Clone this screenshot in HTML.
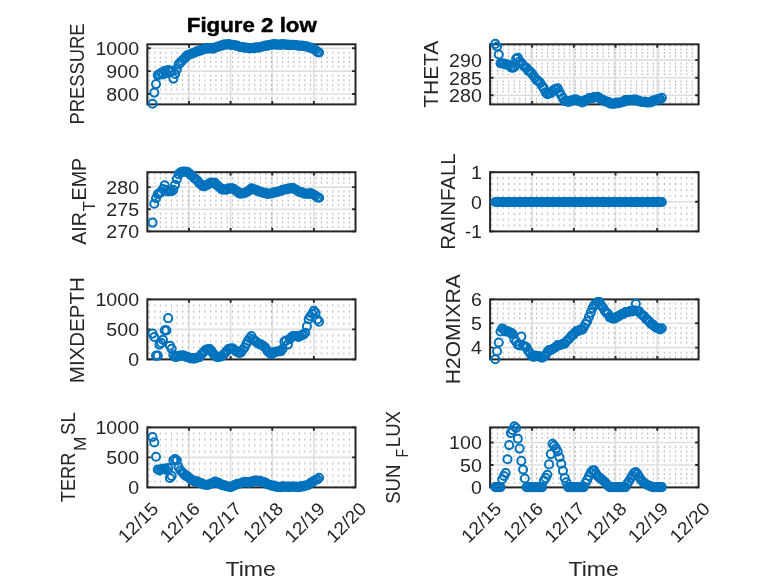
<!DOCTYPE html>
<html><head><meta charset="utf-8"><title>Figure 2 low</title>
<style>html,body{margin:0;padding:0;background:#fff;overflow:hidden}svg{display:block;will-change:transform;opacity:0.999}</style>
</head><body>
<svg width="778" height="583" viewBox="0 0 778 583" font-family="Liberation Sans, sans-serif" fill="#262626">
<rect width="778" height="583" fill="#fff"/>
<rect x="147.35" y="44.3" width="208.15" height="60.1" fill="#fff"/>
<path d="M148.7 52.87H354.5M148.7 57.44H354.5M148.7 62.01H354.5M148.7 66.58H354.5M148.7 75.72H354.5M148.7 80.29H354.5M148.7 84.86H354.5M148.7 89.43H354.5M148.7 98.57H354.5" stroke="#000" stroke-opacity="0.27" stroke-width="2" stroke-dasharray="1.1 4.46" fill="none"/>
<path d="M188.98 44.3V104.4M230.61 44.3V104.4M272.24 44.3V104.4M313.87 44.3V104.4M147.35 48.3H355.5M147.35 71.15H355.5M147.35 94H355.5" stroke="#000" stroke-opacity="0.13" stroke-width="1.6" fill="none"/>
<rect x="147.35" y="44.3" width="208.15" height="60.1" fill="none" stroke="#262626" stroke-width="2"/>
<path d="M188.98 104.4v-3.4M188.98 44.3v3.4M230.61 104.4v-3.4M230.61 44.3v3.4M272.24 104.4v-3.4M272.24 44.3v3.4M313.87 104.4v-3.4M313.87 44.3v3.4M147.35 48.3h3.4M355.5 48.3h-3.4M147.35 71.15h3.4M355.5 71.15h-3.4M147.35 94h3.4M355.5 94h-3.4" stroke="#262626" stroke-width="1.9" fill="none"/>
<g fill="none" stroke="#0072BD" stroke-width="2"><circle cx="152.55" cy="103.7" r="4.05"/><circle cx="154.29" cy="92.6" r="4.05"/><circle cx="156.02" cy="84.1" r="4.05"/><circle cx="157.76" cy="75.17" r="4.05"/><circle cx="159.49" cy="74.52" r="4.05"/><circle cx="161.23" cy="72.7" r="4.05"/><circle cx="162.96" cy="74.47" r="4.05"/><circle cx="164.7" cy="70.72" r="4.05"/><circle cx="166.43" cy="73.2" r="4.05"/><circle cx="168.16" cy="70.04" r="4.05"/><circle cx="169.9" cy="72.08" r="4.05"/><circle cx="171.63" cy="70.92" r="4.05"/><circle cx="173.37" cy="78.62" r="4.05"/><circle cx="175.1" cy="73.94" r="4.05"/><circle cx="176.84" cy="69.39" r="4.05"/><circle cx="178.57" cy="64.36" r="4.05"/><circle cx="180.31" cy="62.63" r="4.05"/><circle cx="182.04" cy="60.89" r="4.05"/><circle cx="183.78" cy="58.99" r="4.05"/><circle cx="185.51" cy="57.32" r="4.05"/><circle cx="187.25" cy="55.39" r="4.05"/><circle cx="188.98" cy="54.76" r="4.05"/><circle cx="190.71" cy="54.2" r="4.05"/><circle cx="192.45" cy="53.18" r="4.05"/><circle cx="194.18" cy="52.98" r="4.05"/><circle cx="195.92" cy="51.82" r="4.05"/><circle cx="197.65" cy="51.11" r="4.05"/><circle cx="199.39" cy="51" r="4.05"/><circle cx="201.12" cy="49.89" r="4.05"/><circle cx="202.86" cy="49.66" r="4.05"/><circle cx="204.59" cy="48.82" r="4.05"/><circle cx="206.33" cy="48.16" r="4.05"/><circle cx="208.06" cy="48.6" r="4.05"/><circle cx="209.79" cy="48.12" r="4.05"/><circle cx="211.53" cy="48.43" r="4.05"/><circle cx="213.26" cy="48.65" r="4.05"/><circle cx="215" cy="47.52" r="4.05"/><circle cx="216.73" cy="47.27" r="4.05"/><circle cx="218.47" cy="46.46" r="4.05"/><circle cx="220.2" cy="45.71" r="4.05"/><circle cx="221.94" cy="45.64" r="4.05"/><circle cx="223.67" cy="44.66" r="4.05"/><circle cx="225.41" cy="44.58" r="4.05"/><circle cx="227.14" cy="44.47" r="4.05"/><circle cx="228.88" cy="44.03" r="4.05"/><circle cx="230.61" cy="45.02" r="4.05"/><circle cx="232.34" cy="44.86" r="4.05"/><circle cx="234.08" cy="45.02" r="4.05"/><circle cx="235.81" cy="45.66" r="4.05"/><circle cx="237.55" cy="45.7" r="4.05"/><circle cx="239.28" cy="46.79" r="4.05"/><circle cx="241.02" cy="47.16" r="4.05"/><circle cx="242.75" cy="47.16" r="4.05"/><circle cx="244.49" cy="47.8" r="4.05"/><circle cx="246.22" cy="47.45" r="4.05"/><circle cx="247.96" cy="47.96" r="4.05"/><circle cx="249.69" cy="48.44" r="4.05"/><circle cx="251.43" cy="48.02" r="4.05"/><circle cx="253.16" cy="48.3" r="4.05"/><circle cx="254.89" cy="47.65" r="4.05"/><circle cx="256.63" cy="47.38" r="4.05"/><circle cx="258.36" cy="47.74" r="4.05"/><circle cx="260.1" cy="46.93" r="4.05"/><circle cx="261.83" cy="46.75" r="4.05"/><circle cx="263.57" cy="46.22" r="4.05"/><circle cx="265.3" cy="45.46" r="4.05"/><circle cx="267.04" cy="45.81" r="4.05"/><circle cx="268.77" cy="45.14" r="4.05"/><circle cx="270.51" cy="44.78" r="4.05"/><circle cx="272.24" cy="44.67" r="4.05"/><circle cx="273.97" cy="44.02" r="4.05"/><circle cx="275.71" cy="44.61" r="4.05"/><circle cx="277.44" cy="44.63" r="4.05"/><circle cx="279.18" cy="44.46" r="4.05"/><circle cx="280.91" cy="44.84" r="4.05"/><circle cx="282.65" cy="44.13" r="4.05"/><circle cx="284.38" cy="44.43" r="4.05"/><circle cx="286.12" cy="44.83" r="4.05"/><circle cx="287.85" cy="44.6" r="4.05"/><circle cx="289.59" cy="45.21" r="4.05"/><circle cx="291.32" cy="44.77" r="4.05"/><circle cx="293.06" cy="44.68" r="4.05"/><circle cx="294.79" cy="45.26" r="4.05"/><circle cx="296.52" cy="45.08" r="4.05"/><circle cx="298.26" cy="45.78" r="4.05"/><circle cx="299.99" cy="45.82" r="4.05"/><circle cx="301.73" cy="45.5" r="4.05"/><circle cx="303.46" cy="46.21" r="4.05"/><circle cx="305.2" cy="46.1" r="4.05"/><circle cx="306.93" cy="46.62" r="4.05"/><circle cx="308.67" cy="47.53" r="4.05"/><circle cx="310.4" cy="47.47" r="4.05"/><circle cx="312.14" cy="48.5" r="4.05"/><circle cx="313.87" cy="48.97" r="4.05"/><circle cx="315.6" cy="50.06" r="4.05"/><circle cx="317.34" cy="51.92" r="4.05"/><circle cx="319.07" cy="52.54" r="4.05"/></g>
<text x="139.05" y="55.1" text-anchor="end" font-size="18.3" textLength="43.6" lengthAdjust="spacingAndGlyphs">1000</text>
<text x="139.05" y="77.95" text-anchor="end" font-size="18.3" textLength="32.7" lengthAdjust="spacingAndGlyphs">900</text>
<text x="139.05" y="100.8" text-anchor="end" font-size="18.3" textLength="32.7" lengthAdjust="spacingAndGlyphs">800</text>
<rect x="490.1" y="44.3" width="208.5" height="60.1" fill="#fff"/>
<path d="M491.45 46.02H697.6M491.45 49.54H697.6M491.45 53.06H697.6M491.45 56.58H697.6M491.45 63.62H697.6M491.45 67.14H697.6M491.45 70.66H697.6M491.45 74.18H697.6M491.45 81.22H697.6M491.45 84.74H697.6M491.45 88.26H697.6M491.45 91.78H697.6M491.45 98.82H697.6M491.45 102.34H697.6" stroke="#000" stroke-opacity="0.27" stroke-width="2" stroke-dasharray="1.1 4.46" fill="none"/>
<path d="M532.15 44.3V104.4M573.85 44.3V104.4M615.55 44.3V104.4M657.25 44.3V104.4M490.1 60.1H698.6M490.1 77.7H698.6M490.1 95.3H698.6" stroke="#000" stroke-opacity="0.13" stroke-width="1.6" fill="none"/>
<rect x="490.1" y="44.3" width="208.5" height="60.1" fill="none" stroke="#262626" stroke-width="2"/>
<path d="M532.15 104.4v-3.4M532.15 44.3v3.4M573.85 104.4v-3.4M573.85 44.3v3.4M615.55 104.4v-3.4M615.55 44.3v3.4M657.25 104.4v-3.4M657.25 44.3v3.4M490.1 60.1h3.4M698.6 60.1h-3.4M490.1 77.7h3.4M698.6 77.7h-3.4M490.1 95.3h3.4M698.6 95.3h-3.4" stroke="#262626" stroke-width="1.9" fill="none"/>
<g fill="none" stroke="#0072BD" stroke-width="2"><circle cx="495.3" cy="43.9" r="4.05"/><circle cx="497.04" cy="46.5" r="4.05"/><circle cx="498.77" cy="54.5" r="4.05"/><circle cx="500.51" cy="63.2" r="4.05"/><circle cx="502.24" cy="63.54" r="4.05"/><circle cx="503.98" cy="63.65" r="4.05"/><circle cx="505.71" cy="64.5" r="4.05"/><circle cx="507.45" cy="64.33" r="4.05"/><circle cx="509.18" cy="65.3" r="4.05"/><circle cx="510.92" cy="67.11" r="4.05"/><circle cx="512.65" cy="67.82" r="4.05"/><circle cx="514.38" cy="66.93" r="4.05"/><circle cx="516.12" cy="58.73" r="4.05"/><circle cx="517.85" cy="57.8" r="4.05"/><circle cx="519.59" cy="61.33" r="4.05"/><circle cx="521.32" cy="62.84" r="4.05"/><circle cx="523.06" cy="64.95" r="4.05"/><circle cx="524.79" cy="66.89" r="4.05"/><circle cx="526.53" cy="67.94" r="4.05"/><circle cx="528.26" cy="70.93" r="4.05"/><circle cx="530" cy="71.39" r="4.05"/><circle cx="531.73" cy="73.35" r="4.05"/><circle cx="533.46" cy="75.74" r="4.05"/><circle cx="535.2" cy="78.02" r="4.05"/><circle cx="536.93" cy="80.36" r="4.05"/><circle cx="538.67" cy="81.33" r="4.05"/><circle cx="540.4" cy="83.02" r="4.05"/><circle cx="542.14" cy="86.03" r="4.05"/><circle cx="543.87" cy="88.41" r="4.05"/><circle cx="545.61" cy="92.26" r="4.05"/><circle cx="547.34" cy="94.14" r="4.05"/><circle cx="549.08" cy="93.45" r="4.05"/><circle cx="550.81" cy="93.21" r="4.05"/><circle cx="552.55" cy="91.09" r="4.05"/><circle cx="554.28" cy="89.65" r="4.05"/><circle cx="556.01" cy="88.8" r="4.05"/><circle cx="557.75" cy="88.35" r="4.05"/><circle cx="559.48" cy="92.07" r="4.05"/><circle cx="561.22" cy="95.33" r="4.05"/><circle cx="562.95" cy="98.14" r="4.05"/><circle cx="564.69" cy="101.03" r="4.05"/><circle cx="566.42" cy="101.08" r="4.05"/><circle cx="568.16" cy="102.05" r="4.05"/><circle cx="569.89" cy="101.38" r="4.05"/><circle cx="571.63" cy="100.22" r="4.05"/><circle cx="573.36" cy="100.52" r="4.05"/><circle cx="575.09" cy="99.38" r="4.05"/><circle cx="576.83" cy="99.83" r="4.05"/><circle cx="578.56" cy="101.03" r="4.05"/><circle cx="580.3" cy="101.29" r="4.05"/><circle cx="582.03" cy="102.48" r="4.05"/><circle cx="583.77" cy="101.61" r="4.05"/><circle cx="585.5" cy="100.12" r="4.05"/><circle cx="587.24" cy="99.7" r="4.05"/><circle cx="588.97" cy="98" r="4.05"/><circle cx="590.71" cy="98.05" r="4.05"/><circle cx="592.44" cy="98.21" r="4.05"/><circle cx="594.18" cy="97" r="4.05"/><circle cx="595.91" cy="97.18" r="4.05"/><circle cx="597.64" cy="96.92" r="4.05"/><circle cx="599.38" cy="97.87" r="4.05"/><circle cx="601.11" cy="99.76" r="4.05"/><circle cx="602.85" cy="99.91" r="4.05"/><circle cx="604.58" cy="101.11" r="4.05"/><circle cx="606.32" cy="101.57" r="4.05"/><circle cx="608.05" cy="101.69" r="4.05"/><circle cx="609.79" cy="103.49" r="4.05"/><circle cx="611.52" cy="103.74" r="4.05"/><circle cx="613.26" cy="103.61" r="4.05"/><circle cx="614.99" cy="103.63" r="4.05"/><circle cx="616.72" cy="102.5" r="4.05"/><circle cx="618.46" cy="103.22" r="4.05"/><circle cx="620.19" cy="102.76" r="4.05"/><circle cx="621.93" cy="101.87" r="4.05"/><circle cx="623.66" cy="101.81" r="4.05"/><circle cx="625.4" cy="100.12" r="4.05"/><circle cx="627.13" cy="100.04" r="4.05"/><circle cx="628.87" cy="100.34" r="4.05"/><circle cx="630.6" cy="99.71" r="4.05"/><circle cx="632.34" cy="100.32" r="4.05"/><circle cx="634.07" cy="99.48" r="4.05"/><circle cx="635.81" cy="99.66" r="4.05"/><circle cx="637.54" cy="100.84" r="4.05"/><circle cx="639.27" cy="100.73" r="4.05"/><circle cx="641.01" cy="101.92" r="4.05"/><circle cx="642.74" cy="101.98" r="4.05"/><circle cx="644.48" cy="101.46" r="4.05"/><circle cx="646.21" cy="102.52" r="4.05"/><circle cx="647.95" cy="102.33" r="4.05"/><circle cx="649.68" cy="102.44" r="4.05"/><circle cx="651.42" cy="102.2" r="4.05"/><circle cx="653.15" cy="100.51" r="4.05"/><circle cx="654.89" cy="100.44" r="4.05"/><circle cx="656.62" cy="99.57" r="4.05"/><circle cx="658.35" cy="99.04" r="4.05"/><circle cx="660.09" cy="99.37" r="4.05"/><circle cx="661.82" cy="97.85" r="4.05"/></g>
<text x="481.8" y="66.9" text-anchor="end" font-size="18.3" textLength="32.7" lengthAdjust="spacingAndGlyphs">290</text>
<text x="481.8" y="84.5" text-anchor="end" font-size="18.3" textLength="32.7" lengthAdjust="spacingAndGlyphs">285</text>
<text x="481.8" y="102.1" text-anchor="end" font-size="18.3" textLength="32.7" lengthAdjust="spacingAndGlyphs">280</text>
<rect x="147.35" y="172.2" width="208.15" height="59.2" fill="#fff"/>
<path d="M148.7 226.97H354.5M148.7 222.54H354.5M148.7 218.11H354.5M148.7 213.68H354.5M148.7 204.82H354.5M148.7 200.39H354.5M148.7 195.96H354.5M148.7 191.53H354.5M148.7 182.67H354.5M148.7 178.24H354.5M148.7 173.81H354.5" stroke="#000" stroke-opacity="0.27" stroke-width="2" stroke-dasharray="1.1 4.46" fill="none"/>
<path d="M188.98 172.2V231.4M230.61 172.2V231.4M272.24 172.2V231.4M313.87 172.2V231.4M147.35 187.1H355.5M147.35 209.25H355.5" stroke="#000" stroke-opacity="0.13" stroke-width="1.6" fill="none"/>
<rect x="147.35" y="172.2" width="208.15" height="59.2" fill="none" stroke="#262626" stroke-width="2"/>
<path d="M188.98 231.4v-3.4M188.98 172.2v3.4M230.61 231.4v-3.4M230.61 172.2v3.4M272.24 231.4v-3.4M272.24 172.2v3.4M313.87 231.4v-3.4M313.87 172.2v3.4M147.35 187.1h3.4M355.5 187.1h-3.4M147.35 209.25h3.4M355.5 209.25h-3.4M147.35 231.4h3.4M355.5 231.4h-3.4" stroke="#262626" stroke-width="1.9" fill="none"/>
<g fill="none" stroke="#0072BD" stroke-width="2"><circle cx="152.55" cy="222.6" r="4.05"/><circle cx="154.29" cy="203.8" r="4.05"/><circle cx="156.02" cy="198.2" r="4.05"/><circle cx="157.76" cy="194.27" r="4.05"/><circle cx="159.49" cy="193.12" r="4.05"/><circle cx="161.23" cy="192.2" r="4.05"/><circle cx="162.96" cy="189.07" r="4.05"/><circle cx="164.7" cy="185.22" r="4.05"/><circle cx="166.43" cy="190.1" r="4.05"/><circle cx="168.16" cy="191.54" r="4.05"/><circle cx="169.9" cy="190.98" r="4.05"/><circle cx="171.63" cy="191.22" r="4.05"/><circle cx="173.37" cy="189.82" r="4.05"/><circle cx="175.1" cy="184.84" r="4.05"/><circle cx="176.84" cy="179.09" r="4.05"/><circle cx="178.57" cy="174.16" r="4.05"/><circle cx="180.31" cy="172.53" r="4.05"/><circle cx="182.04" cy="171.76" r="4.05"/><circle cx="183.78" cy="171.6" r="4.05"/><circle cx="185.51" cy="171.77" r="4.05"/><circle cx="187.25" cy="171.9" r="4.05"/><circle cx="188.98" cy="173.19" r="4.05"/><circle cx="190.71" cy="174.82" r="4.05"/><circle cx="192.45" cy="175.88" r="4.05"/><circle cx="194.18" cy="178.06" r="4.05"/><circle cx="195.92" cy="179.26" r="4.05"/><circle cx="197.65" cy="180.91" r="4.05"/><circle cx="199.39" cy="183.26" r="4.05"/><circle cx="201.12" cy="184.48" r="4.05"/><circle cx="202.86" cy="186.14" r="4.05"/><circle cx="204.59" cy="186.18" r="4.05"/><circle cx="206.33" cy="185.3" r="4.05"/><circle cx="208.06" cy="184.68" r="4.05"/><circle cx="209.79" cy="183.16" r="4.05"/><circle cx="211.53" cy="182.56" r="4.05"/><circle cx="213.26" cy="182.69" r="4.05"/><circle cx="215" cy="182.8" r="4.05"/><circle cx="216.73" cy="184.86" r="4.05"/><circle cx="218.47" cy="186.51" r="4.05"/><circle cx="220.2" cy="187.79" r="4.05"/><circle cx="221.94" cy="189.39" r="4.05"/><circle cx="223.67" cy="189.55" r="4.05"/><circle cx="225.41" cy="189.66" r="4.05"/><circle cx="227.14" cy="189.34" r="4.05"/><circle cx="228.88" cy="188.27" r="4.05"/><circle cx="230.61" cy="188.48" r="4.05"/><circle cx="232.34" cy="188.39" r="4.05"/><circle cx="234.08" cy="189.16" r="4.05"/><circle cx="235.81" cy="190.76" r="4.05"/><circle cx="237.55" cy="191.64" r="4.05"/><circle cx="239.28" cy="193.4" r="4.05"/><circle cx="241.02" cy="193.77" r="4.05"/><circle cx="242.75" cy="193.31" r="4.05"/><circle cx="244.49" cy="193.23" r="4.05"/><circle cx="246.22" cy="192.01" r="4.05"/><circle cx="247.96" cy="191.47" r="4.05"/><circle cx="249.69" cy="189.97" r="4.05"/><circle cx="251.43" cy="188.28" r="4.05"/><circle cx="253.16" cy="189.24" r="4.05"/><circle cx="254.89" cy="189.49" r="4.05"/><circle cx="256.63" cy="190.12" r="4.05"/><circle cx="258.36" cy="191.43" r="4.05"/><circle cx="260.1" cy="191.59" r="4.05"/><circle cx="261.83" cy="192.47" r="4.05"/><circle cx="263.57" cy="192.82" r="4.05"/><circle cx="265.3" cy="192.77" r="4.05"/><circle cx="267.04" cy="193.83" r="4.05"/><circle cx="268.77" cy="193.79" r="4.05"/><circle cx="270.51" cy="193.49" r="4.05"/><circle cx="272.24" cy="193.29" r="4.05"/><circle cx="273.97" cy="192.32" r="4.05"/><circle cx="275.71" cy="192.43" r="4.05"/><circle cx="277.44" cy="191.9" r="4.05"/><circle cx="279.18" cy="191.18" r="4.05"/><circle cx="280.91" cy="191.01" r="4.05"/><circle cx="282.65" cy="189.79" r="4.05"/><circle cx="284.38" cy="189.54" r="4.05"/><circle cx="286.12" cy="189.36" r="4.05"/><circle cx="287.85" cy="188.56" r="4.05"/><circle cx="289.59" cy="188.69" r="4.05"/><circle cx="291.32" cy="188.16" r="4.05"/><circle cx="293.06" cy="187.99" r="4.05"/><circle cx="294.79" cy="189.24" r="4.05"/><circle cx="296.52" cy="189.96" r="4.05"/><circle cx="298.26" cy="191.55" r="4.05"/><circle cx="299.99" cy="192.3" r="4.05"/><circle cx="301.73" cy="192.3" r="4.05"/><circle cx="303.46" cy="193.34" r="4.05"/><circle cx="305.2" cy="193.56" r="4.05"/><circle cx="306.93" cy="193.79" r="4.05"/><circle cx="308.67" cy="193.9" r="4.05"/><circle cx="310.4" cy="193.05" r="4.05"/><circle cx="312.14" cy="193.86" r="4.05"/><circle cx="313.87" cy="194.72" r="4.05"/><circle cx="315.6" cy="195.78" r="4.05"/><circle cx="317.34" cy="197.38" r="4.05"/><circle cx="319.07" cy="197.74" r="4.05"/></g>
<text x="139.05" y="193.9" text-anchor="end" font-size="18.3" textLength="32.7" lengthAdjust="spacingAndGlyphs">280</text>
<text x="139.05" y="216.05" text-anchor="end" font-size="18.3" textLength="32.7" lengthAdjust="spacingAndGlyphs">275</text>
<text x="139.05" y="238.2" text-anchor="end" font-size="18.3" textLength="32.7" lengthAdjust="spacingAndGlyphs">270</text>
<rect x="490.1" y="172.2" width="208.5" height="59.2" fill="#fff"/>
<path d="M491.45 178.12H697.6M491.45 184.04H697.6M491.45 189.96H697.6M491.45 195.88H697.6M491.45 207.72H697.6M491.45 213.64H697.6M491.45 219.56H697.6M491.45 225.48H697.6" stroke="#000" stroke-opacity="0.27" stroke-width="2" stroke-dasharray="1.1 4.46" fill="none"/>
<path d="M532.15 172.2V231.4M573.85 172.2V231.4M615.55 172.2V231.4M657.25 172.2V231.4M490.1 201.8H698.6" stroke="#000" stroke-opacity="0.13" stroke-width="1.6" fill="none"/>
<rect x="490.1" y="172.2" width="208.5" height="59.2" fill="none" stroke="#262626" stroke-width="2"/>
<path d="M532.15 231.4v-3.4M532.15 172.2v3.4M573.85 231.4v-3.4M573.85 172.2v3.4M615.55 231.4v-3.4M615.55 172.2v3.4M657.25 231.4v-3.4M657.25 172.2v3.4M490.1 172.2h3.4M698.6 172.2h-3.4M490.1 201.8h3.4M698.6 201.8h-3.4M490.1 231.4h3.4M698.6 231.4h-3.4" stroke="#262626" stroke-width="1.9" fill="none"/>
<g fill="none" stroke="#0072BD" stroke-width="2"><circle cx="495.3" cy="202" r="4.05"/><circle cx="497.04" cy="202" r="4.05"/><circle cx="498.77" cy="202" r="4.05"/><circle cx="500.51" cy="202" r="4.05"/><circle cx="502.24" cy="202" r="4.05"/><circle cx="503.98" cy="202" r="4.05"/><circle cx="505.71" cy="202" r="4.05"/><circle cx="507.45" cy="202" r="4.05"/><circle cx="509.18" cy="202" r="4.05"/><circle cx="510.92" cy="202" r="4.05"/><circle cx="512.65" cy="202" r="4.05"/><circle cx="514.38" cy="202" r="4.05"/><circle cx="516.12" cy="202" r="4.05"/><circle cx="517.85" cy="202" r="4.05"/><circle cx="519.59" cy="202" r="4.05"/><circle cx="521.32" cy="202" r="4.05"/><circle cx="523.06" cy="202" r="4.05"/><circle cx="524.79" cy="202" r="4.05"/><circle cx="526.53" cy="202" r="4.05"/><circle cx="528.26" cy="202" r="4.05"/><circle cx="530" cy="202" r="4.05"/><circle cx="531.73" cy="202" r="4.05"/><circle cx="533.46" cy="202" r="4.05"/><circle cx="535.2" cy="202" r="4.05"/><circle cx="536.93" cy="202" r="4.05"/><circle cx="538.67" cy="202" r="4.05"/><circle cx="540.4" cy="202" r="4.05"/><circle cx="542.14" cy="202" r="4.05"/><circle cx="543.87" cy="202" r="4.05"/><circle cx="545.61" cy="202" r="4.05"/><circle cx="547.34" cy="202" r="4.05"/><circle cx="549.08" cy="202" r="4.05"/><circle cx="550.81" cy="202" r="4.05"/><circle cx="552.55" cy="202" r="4.05"/><circle cx="554.28" cy="202" r="4.05"/><circle cx="556.01" cy="202" r="4.05"/><circle cx="557.75" cy="202" r="4.05"/><circle cx="559.48" cy="202" r="4.05"/><circle cx="561.22" cy="202" r="4.05"/><circle cx="562.95" cy="202" r="4.05"/><circle cx="564.69" cy="202" r="4.05"/><circle cx="566.42" cy="202" r="4.05"/><circle cx="568.16" cy="202" r="4.05"/><circle cx="569.89" cy="202" r="4.05"/><circle cx="571.63" cy="202" r="4.05"/><circle cx="573.36" cy="202" r="4.05"/><circle cx="575.09" cy="202" r="4.05"/><circle cx="576.83" cy="202" r="4.05"/><circle cx="578.56" cy="202" r="4.05"/><circle cx="580.3" cy="202" r="4.05"/><circle cx="582.03" cy="202" r="4.05"/><circle cx="583.77" cy="202" r="4.05"/><circle cx="585.5" cy="202" r="4.05"/><circle cx="587.24" cy="202" r="4.05"/><circle cx="588.97" cy="202" r="4.05"/><circle cx="590.71" cy="202" r="4.05"/><circle cx="592.44" cy="202" r="4.05"/><circle cx="594.18" cy="202" r="4.05"/><circle cx="595.91" cy="202" r="4.05"/><circle cx="597.64" cy="202" r="4.05"/><circle cx="599.38" cy="202" r="4.05"/><circle cx="601.11" cy="202" r="4.05"/><circle cx="602.85" cy="202" r="4.05"/><circle cx="604.58" cy="202" r="4.05"/><circle cx="606.32" cy="202" r="4.05"/><circle cx="608.05" cy="202" r="4.05"/><circle cx="609.79" cy="202" r="4.05"/><circle cx="611.52" cy="202" r="4.05"/><circle cx="613.26" cy="202" r="4.05"/><circle cx="614.99" cy="202" r="4.05"/><circle cx="616.72" cy="202" r="4.05"/><circle cx="618.46" cy="202" r="4.05"/><circle cx="620.19" cy="202" r="4.05"/><circle cx="621.93" cy="202" r="4.05"/><circle cx="623.66" cy="202" r="4.05"/><circle cx="625.4" cy="202" r="4.05"/><circle cx="627.13" cy="202" r="4.05"/><circle cx="628.87" cy="202" r="4.05"/><circle cx="630.6" cy="202" r="4.05"/><circle cx="632.34" cy="202" r="4.05"/><circle cx="634.07" cy="202" r="4.05"/><circle cx="635.81" cy="202" r="4.05"/><circle cx="637.54" cy="202" r="4.05"/><circle cx="639.27" cy="202" r="4.05"/><circle cx="641.01" cy="202" r="4.05"/><circle cx="642.74" cy="202" r="4.05"/><circle cx="644.48" cy="202" r="4.05"/><circle cx="646.21" cy="202" r="4.05"/><circle cx="647.95" cy="202" r="4.05"/><circle cx="649.68" cy="202" r="4.05"/><circle cx="651.42" cy="202" r="4.05"/><circle cx="653.15" cy="202" r="4.05"/><circle cx="654.89" cy="202" r="4.05"/><circle cx="656.62" cy="202" r="4.05"/><circle cx="658.35" cy="202" r="4.05"/><circle cx="660.09" cy="202" r="4.05"/><circle cx="661.82" cy="202" r="4.05"/></g>
<text x="481.8" y="179" text-anchor="end" font-size="18.3" textLength="10.9" lengthAdjust="spacingAndGlyphs">1</text>
<text x="481.8" y="208.6" text-anchor="end" font-size="18.3" textLength="10.9" lengthAdjust="spacingAndGlyphs">0</text>
<text x="481.8" y="238.2" text-anchor="end" font-size="18.3" textLength="16.8" lengthAdjust="spacingAndGlyphs">-1</text>
<rect x="147.35" y="299.4" width="208.15" height="60" fill="#fff"/>
<path d="M148.7 305.4H354.5M148.7 311.4H354.5M148.7 317.4H354.5M148.7 323.4H354.5M148.7 335.4H354.5M148.7 341.4H354.5M148.7 347.4H354.5M148.7 353.4H354.5" stroke="#000" stroke-opacity="0.27" stroke-width="2" stroke-dasharray="1.1 4.46" fill="none"/>
<path d="M188.98 299.4V359.4M230.61 299.4V359.4M272.24 299.4V359.4M313.87 299.4V359.4M147.35 329.4H355.5" stroke="#000" stroke-opacity="0.13" stroke-width="1.6" fill="none"/>
<rect x="147.35" y="299.4" width="208.15" height="60" fill="none" stroke="#262626" stroke-width="2"/>
<path d="M188.98 359.4v-3.4M188.98 299.4v3.4M230.61 359.4v-3.4M230.61 299.4v3.4M272.24 359.4v-3.4M272.24 299.4v3.4M313.87 359.4v-3.4M313.87 299.4v3.4M147.35 299.4h3.4M355.5 299.4h-3.4M147.35 329.4h3.4M355.5 329.4h-3.4M147.35 359.4h3.4M355.5 359.4h-3.4" stroke="#262626" stroke-width="1.9" fill="none"/>
<g fill="none" stroke="#0072BD" stroke-width="2"><circle cx="152.55" cy="333.6" r="4.05"/><circle cx="154.29" cy="337" r="4.05"/><circle cx="156.02" cy="355.6" r="4.05"/><circle cx="157.76" cy="355.67" r="4.05"/><circle cx="159.49" cy="344.62" r="4.05"/><circle cx="161.23" cy="342.9" r="4.05"/><circle cx="162.96" cy="339.87" r="4.05"/><circle cx="164.7" cy="330.22" r="4.05"/><circle cx="166.43" cy="330.4" r="4.05"/><circle cx="168.16" cy="318.14" r="4.05"/><circle cx="169.9" cy="345.68" r="4.05"/><circle cx="171.63" cy="348.82" r="4.05"/><circle cx="173.37" cy="355.02" r="4.05"/><circle cx="175.1" cy="356.85" r="4.05"/><circle cx="176.84" cy="356.89" r="4.05"/><circle cx="178.57" cy="355.79" r="4.05"/><circle cx="180.31" cy="355.9" r="4.05"/><circle cx="182.04" cy="355.19" r="4.05"/><circle cx="183.78" cy="355.51" r="4.05"/><circle cx="185.51" cy="356.63" r="4.05"/><circle cx="187.25" cy="356.89" r="4.05"/><circle cx="188.98" cy="357.68" r="4.05"/><circle cx="190.71" cy="358.35" r="4.05"/><circle cx="192.45" cy="358.11" r="4.05"/><circle cx="194.18" cy="358.58" r="4.05"/><circle cx="195.92" cy="358.07" r="4.05"/><circle cx="197.65" cy="357.48" r="4.05"/><circle cx="199.39" cy="357.16" r="4.05"/><circle cx="201.12" cy="354.58" r="4.05"/><circle cx="202.86" cy="352.98" r="4.05"/><circle cx="204.59" cy="350.98" r="4.05"/><circle cx="206.33" cy="349.5" r="4.05"/><circle cx="208.06" cy="349.3" r="4.05"/><circle cx="209.79" cy="349.02" r="4.05"/><circle cx="211.53" cy="351.09" r="4.05"/><circle cx="213.26" cy="353.8" r="4.05"/><circle cx="215" cy="355.54" r="4.05"/><circle cx="216.73" cy="356.91" r="4.05"/><circle cx="218.47" cy="357.04" r="4.05"/><circle cx="220.2" cy="356.56" r="4.05"/><circle cx="221.94" cy="356.23" r="4.05"/><circle cx="223.67" cy="354.5" r="4.05"/><circle cx="225.41" cy="352.5" r="4.05"/><circle cx="227.14" cy="350.65" r="4.05"/><circle cx="228.88" cy="348.71" r="4.05"/><circle cx="230.61" cy="348.85" r="4.05"/><circle cx="232.34" cy="348.36" r="4.05"/><circle cx="234.08" cy="349.48" r="4.05"/><circle cx="235.81" cy="351.08" r="4.05"/><circle cx="237.55" cy="351.96" r="4.05"/><circle cx="239.28" cy="352.86" r="4.05"/><circle cx="241.02" cy="352.35" r="4.05"/><circle cx="242.75" cy="349.77" r="4.05"/><circle cx="244.49" cy="347.52" r="4.05"/><circle cx="246.22" cy="343.97" r="4.05"/><circle cx="247.96" cy="340.77" r="4.05"/><circle cx="249.69" cy="338.25" r="4.05"/><circle cx="251.43" cy="336" r="4.05"/><circle cx="253.16" cy="339.27" r="4.05"/><circle cx="254.89" cy="340.85" r="4.05"/><circle cx="256.63" cy="342.15" r="4.05"/><circle cx="258.36" cy="343.72" r="4.05"/><circle cx="260.1" cy="344.07" r="4.05"/><circle cx="261.83" cy="345.1" r="4.05"/><circle cx="263.57" cy="346.24" r="4.05"/><circle cx="265.3" cy="347.63" r="4.05"/><circle cx="267.04" cy="350.46" r="4.05"/><circle cx="268.77" cy="352.26" r="4.05"/><circle cx="270.51" cy="353.57" r="4.05"/><circle cx="272.24" cy="353.96" r="4.05"/><circle cx="273.97" cy="352.01" r="4.05"/><circle cx="275.71" cy="351.88" r="4.05"/><circle cx="277.44" cy="351.43" r="4.05"/><circle cx="279.18" cy="351.26" r="4.05"/><circle cx="280.91" cy="351.13" r="4.05"/><circle cx="282.65" cy="348.73" r="4.05"/><circle cx="284.38" cy="341.57" r="4.05"/><circle cx="286.12" cy="340.49" r="4.05"/><circle cx="287.85" cy="344.57" r="4.05"/><circle cx="289.59" cy="339.19" r="4.05"/><circle cx="291.32" cy="337.2" r="4.05"/><circle cx="293.06" cy="336.05" r="4.05"/><circle cx="294.79" cy="336.07" r="4.05"/><circle cx="296.52" cy="335.99" r="4.05"/><circle cx="298.26" cy="336.86" r="4.05"/><circle cx="299.99" cy="336.23" r="4.05"/><circle cx="301.73" cy="335.06" r="4.05"/><circle cx="303.46" cy="334.69" r="4.05"/><circle cx="305.2" cy="332.71" r="4.05"/><circle cx="306.93" cy="326.32" r="4.05"/><circle cx="308.67" cy="319.18" r="4.05"/><circle cx="310.4" cy="316.27" r="4.05"/><circle cx="312.14" cy="313.74" r="4.05"/><circle cx="313.87" cy="310.76" r="4.05"/><circle cx="315.6" cy="312.78" r="4.05"/><circle cx="317.34" cy="319.48" r="4.05"/><circle cx="319.07" cy="321.64" r="4.05"/></g>
<text x="139.05" y="306.2" text-anchor="end" font-size="18.3" textLength="43.6" lengthAdjust="spacingAndGlyphs">1000</text>
<text x="139.05" y="336.2" text-anchor="end" font-size="18.3" textLength="32.7" lengthAdjust="spacingAndGlyphs">500</text>
<text x="139.05" y="366.2" text-anchor="end" font-size="18.3" textLength="10.9" lengthAdjust="spacingAndGlyphs">0</text>
<rect x="490.1" y="299.4" width="208.5" height="60" fill="#fff"/>
<path d="M491.45 303.68H697.6M491.45 308.56H697.6M491.45 313.44H697.6M491.45 318.32H697.6M491.45 328.08H697.6M491.45 332.96H697.6M491.45 337.84H697.6M491.45 342.72H697.6M491.45 352.48H697.6M491.45 357.36H697.6" stroke="#000" stroke-opacity="0.27" stroke-width="2" stroke-dasharray="1.1 4.46" fill="none"/>
<path d="M532.15 299.4V359.4M573.85 299.4V359.4M615.55 299.4V359.4M657.25 299.4V359.4M490.1 323.2H698.6M490.1 347.6H698.6" stroke="#000" stroke-opacity="0.13" stroke-width="1.6" fill="none"/>
<rect x="490.1" y="299.4" width="208.5" height="60" fill="none" stroke="#262626" stroke-width="2"/>
<path d="M532.15 359.4v-3.4M532.15 299.4v3.4M573.85 359.4v-3.4M573.85 299.4v3.4M615.55 359.4v-3.4M615.55 299.4v3.4M657.25 359.4v-3.4M657.25 299.4v3.4M490.1 299.4h3.4M698.6 299.4h-3.4M490.1 323.2h3.4M698.6 323.2h-3.4M490.1 347.6h3.4M698.6 347.6h-3.4" stroke="#262626" stroke-width="1.9" fill="none"/>
<g fill="none" stroke="#0072BD" stroke-width="2"><circle cx="495.3" cy="359.2" r="4.05"/><circle cx="497.04" cy="351.3" r="4.05"/><circle cx="498.77" cy="342.5" r="4.05"/><circle cx="500.51" cy="331.5" r="4.05"/><circle cx="502.24" cy="328.44" r="4.05"/><circle cx="503.98" cy="329.75" r="4.05"/><circle cx="505.71" cy="331.4" r="4.05"/><circle cx="507.45" cy="331.13" r="4.05"/><circle cx="509.18" cy="332.1" r="4.05"/><circle cx="510.92" cy="332.81" r="4.05"/><circle cx="512.65" cy="333.82" r="4.05"/><circle cx="514.38" cy="339.43" r="4.05"/><circle cx="516.12" cy="341.73" r="4.05"/><circle cx="517.85" cy="344.6" r="4.05"/><circle cx="519.59" cy="345.53" r="4.05"/><circle cx="521.32" cy="336.64" r="4.05"/><circle cx="523.06" cy="345.75" r="4.05"/><circle cx="524.79" cy="346.19" r="4.05"/><circle cx="526.53" cy="347.44" r="4.05"/><circle cx="528.26" cy="350.93" r="4.05"/><circle cx="530" cy="352.99" r="4.05"/><circle cx="531.73" cy="355.75" r="4.05"/><circle cx="533.46" cy="356.94" r="4.05"/><circle cx="535.2" cy="355.62" r="4.05"/><circle cx="536.93" cy="356.23" r="4.05"/><circle cx="538.67" cy="356.15" r="4.05"/><circle cx="540.4" cy="356.87" r="4.05"/><circle cx="542.14" cy="357.74" r="4.05"/><circle cx="543.87" cy="356.33" r="4.05"/><circle cx="545.61" cy="355.39" r="4.05"/><circle cx="547.34" cy="352.14" r="4.05"/><circle cx="549.08" cy="349.95" r="4.05"/><circle cx="550.81" cy="350.15" r="4.05"/><circle cx="552.55" cy="348.99" r="4.05"/><circle cx="554.28" cy="348.02" r="4.05"/><circle cx="556.01" cy="347.05" r="4.05"/><circle cx="557.75" cy="345.1" r="4.05"/><circle cx="559.48" cy="345.23" r="4.05"/><circle cx="561.22" cy="344.7" r="4.05"/><circle cx="562.95" cy="343.86" r="4.05"/><circle cx="564.69" cy="343.6" r="4.05"/><circle cx="566.42" cy="341.22" r="4.05"/><circle cx="568.16" cy="339.75" r="4.05"/><circle cx="569.89" cy="337.79" r="4.05"/><circle cx="571.63" cy="335.58" r="4.05"/><circle cx="573.36" cy="334.81" r="4.05"/><circle cx="575.09" cy="332.36" r="4.05"/><circle cx="576.83" cy="330.91" r="4.05"/><circle cx="578.56" cy="330.96" r="4.05"/><circle cx="580.3" cy="329.6" r="4.05"/><circle cx="582.03" cy="329.66" r="4.05"/><circle cx="583.77" cy="327.34" r="4.05"/><circle cx="585.5" cy="324.09" r="4.05"/><circle cx="587.24" cy="321.2" r="4.05"/><circle cx="588.97" cy="316.81" r="4.05"/><circle cx="590.71" cy="312.78" r="4.05"/><circle cx="592.44" cy="308.27" r="4.05"/><circle cx="594.18" cy="305.17" r="4.05"/><circle cx="595.91" cy="303.9" r="4.05"/><circle cx="597.64" cy="302.13" r="4.05"/><circle cx="599.38" cy="301.93" r="4.05"/><circle cx="601.11" cy="305.2" r="4.05"/><circle cx="602.85" cy="307.22" r="4.05"/><circle cx="604.58" cy="310.38" r="4.05"/><circle cx="606.32" cy="312.67" r="4.05"/><circle cx="608.05" cy="313.87" r="4.05"/><circle cx="609.79" cy="317.31" r="4.05"/><circle cx="611.52" cy="317.95" r="4.05"/><circle cx="613.26" cy="318.64" r="4.05"/><circle cx="614.99" cy="318.47" r="4.05"/><circle cx="616.72" cy="316.78" r="4.05"/><circle cx="618.46" cy="316.42" r="4.05"/><circle cx="620.19" cy="315.2" r="4.05"/><circle cx="621.93" cy="314.17" r="4.05"/><circle cx="623.66" cy="313.97" r="4.05"/><circle cx="625.4" cy="312.14" r="4.05"/><circle cx="627.13" cy="311.98" r="4.05"/><circle cx="628.87" cy="311.91" r="4.05"/><circle cx="630.6" cy="310.91" r="4.05"/><circle cx="632.34" cy="311.44" r="4.05"/><circle cx="634.07" cy="310.4" r="4.05"/><circle cx="635.81" cy="303.73" r="4.05"/><circle cx="637.54" cy="311.27" r="4.05"/><circle cx="639.27" cy="311.52" r="4.05"/><circle cx="641.01" cy="313.97" r="4.05"/><circle cx="642.74" cy="315.42" r="4.05"/><circle cx="644.48" cy="316.52" r="4.05"/><circle cx="646.21" cy="319.19" r="4.05"/><circle cx="647.95" cy="320.16" r="4.05"/><circle cx="649.68" cy="322.08" r="4.05"/><circle cx="651.42" cy="324.16" r="4.05"/><circle cx="653.15" cy="324.81" r="4.05"/><circle cx="654.89" cy="326.71" r="4.05"/><circle cx="656.62" cy="327.8" r="4.05"/><circle cx="658.35" cy="328.35" r="4.05"/><circle cx="660.09" cy="329.42" r="4.05"/><circle cx="661.82" cy="328.25" r="4.05"/></g>
<text x="481.8" y="306.2" text-anchor="end" font-size="18.3" textLength="10.9" lengthAdjust="spacingAndGlyphs">6</text>
<text x="481.8" y="330" text-anchor="end" font-size="18.3" textLength="10.9" lengthAdjust="spacingAndGlyphs">5</text>
<text x="481.8" y="354.4" text-anchor="end" font-size="18.3" textLength="10.9" lengthAdjust="spacingAndGlyphs">4</text>
<rect x="147.35" y="427.4" width="208.15" height="60" fill="#fff"/>
<path d="M148.7 433.4H354.5M148.7 439.4H354.5M148.7 445.4H354.5M148.7 451.4H354.5M148.7 463.4H354.5M148.7 469.4H354.5M148.7 475.4H354.5M148.7 481.4H354.5" stroke="#000" stroke-opacity="0.27" stroke-width="2" stroke-dasharray="1.1 4.46" fill="none"/>
<path d="M188.98 427.4V487.4M230.61 427.4V487.4M272.24 427.4V487.4M313.87 427.4V487.4M147.35 457.4H355.5" stroke="#000" stroke-opacity="0.13" stroke-width="1.6" fill="none"/>
<rect x="147.35" y="427.4" width="208.15" height="60" fill="none" stroke="#262626" stroke-width="2"/>
<path d="M188.98 487.4v-3.4M188.98 427.4v3.4M230.61 487.4v-3.4M230.61 427.4v3.4M272.24 487.4v-3.4M272.24 427.4v3.4M313.87 487.4v-3.4M313.87 427.4v3.4M147.35 427.4h3.4M355.5 427.4h-3.4M147.35 457.4h3.4M355.5 457.4h-3.4M147.35 487.4h3.4M355.5 487.4h-3.4" stroke="#262626" stroke-width="1.9" fill="none"/>
<g fill="none" stroke="#0072BD" stroke-width="2"><circle cx="152.55" cy="437" r="4.05"/><circle cx="154.29" cy="442.4" r="4.05"/><circle cx="156.02" cy="456.8" r="4.05"/><circle cx="157.76" cy="469.48" r="4.05"/><circle cx="159.49" cy="470.4" r="4.05"/><circle cx="161.23" cy="469.29" r="4.05"/><circle cx="162.96" cy="468.75" r="4.05"/><circle cx="164.7" cy="468.59" r="4.05"/><circle cx="166.43" cy="470" r="4.05"/><circle cx="168.16" cy="468.13" r="4.05"/><circle cx="169.9" cy="478.03" r="4.05"/><circle cx="171.63" cy="475.89" r="4.05"/><circle cx="173.37" cy="460.42" r="4.05"/><circle cx="175.1" cy="459.12" r="4.05"/><circle cx="176.84" cy="460.5" r="4.05"/><circle cx="178.57" cy="467.09" r="4.05"/><circle cx="180.31" cy="470.27" r="4.05"/><circle cx="182.04" cy="472.03" r="4.05"/><circle cx="183.78" cy="473.93" r="4.05"/><circle cx="185.51" cy="475.76" r="4.05"/><circle cx="187.25" cy="476.14" r="4.05"/><circle cx="188.98" cy="477.69" r="4.05"/><circle cx="190.71" cy="479.37" r="4.05"/><circle cx="192.45" cy="480.01" r="4.05"/><circle cx="194.18" cy="481.37" r="4.05"/><circle cx="195.92" cy="481.32" r="4.05"/><circle cx="197.65" cy="481.66" r="4.05"/><circle cx="199.39" cy="482.82" r="4.05"/><circle cx="201.12" cy="482.94" r="4.05"/><circle cx="202.86" cy="484.25" r="4.05"/><circle cx="204.59" cy="484.68" r="4.05"/><circle cx="206.33" cy="484.73" r="4.05"/><circle cx="208.06" cy="485.01" r="4.05"/><circle cx="209.79" cy="484.04" r="4.05"/><circle cx="211.53" cy="483.41" r="4.05"/><circle cx="213.26" cy="482.89" r="4.05"/><circle cx="215" cy="481.59" r="4.05"/><circle cx="216.73" cy="482.43" r="4.05"/><circle cx="218.47" cy="482.86" r="4.05"/><circle cx="220.2" cy="483.73" r="4.05"/><circle cx="221.94" cy="485.14" r="4.05"/><circle cx="223.67" cy="485.12" r="4.05"/><circle cx="225.41" cy="485.9" r="4.05"/><circle cx="227.14" cy="486.54" r="4.05"/><circle cx="228.88" cy="486.44" r="4.05"/><circle cx="230.61" cy="487.2" r="4.05"/><circle cx="232.34" cy="486.29" r="4.05"/><circle cx="234.08" cy="485.42" r="4.05"/><circle cx="235.81" cy="484.9" r="4.05"/><circle cx="237.55" cy="483.69" r="4.05"/><circle cx="239.28" cy="483.78" r="4.05"/><circle cx="241.02" cy="483.25" r="4.05"/><circle cx="242.75" cy="482.27" r="4.05"/><circle cx="244.49" cy="482.25" r="4.05"/><circle cx="246.22" cy="481.77" r="4.05"/><circle cx="247.96" cy="482.41" r="4.05"/><circle cx="249.69" cy="482.82" r="4.05"/><circle cx="251.43" cy="481.52" r="4.05"/><circle cx="253.16" cy="481.31" r="4.05"/><circle cx="254.89" cy="480.63" r="4.05"/><circle cx="256.63" cy="480.65" r="4.05"/><circle cx="258.36" cy="481.39" r="4.05"/><circle cx="260.1" cy="480.92" r="4.05"/><circle cx="261.83" cy="481.81" r="4.05"/><circle cx="263.57" cy="482.28" r="4.05"/><circle cx="265.3" cy="482.48" r="4.05"/><circle cx="267.04" cy="484.08" r="4.05"/><circle cx="268.77" cy="484.51" r="4.05"/><circle cx="270.51" cy="485.3" r="4.05"/><circle cx="272.24" cy="486.03" r="4.05"/><circle cx="273.97" cy="485.6" r="4.05"/><circle cx="275.71" cy="486.61" r="4.05"/><circle cx="277.44" cy="486.95" r="4.05"/><circle cx="279.18" cy="486.75" r="4.05"/><circle cx="280.91" cy="487.19" r="4.05"/><circle cx="282.65" cy="486.37" r="4.05"/><circle cx="284.38" cy="486.65" r="4.05"/><circle cx="286.12" cy="487.02" r="4.05"/><circle cx="287.85" cy="486.65" r="4.05"/><circle cx="289.59" cy="487.2" r="4.05"/><circle cx="291.32" cy="486.64" r="4.05"/><circle cx="293.06" cy="486.44" r="4.05"/><circle cx="294.79" cy="487.01" r="4.05"/><circle cx="296.52" cy="486.58" r="4.05"/><circle cx="298.26" cy="487.16" r="4.05"/><circle cx="299.99" cy="486.97" r="4.05"/><circle cx="301.73" cy="486.17" r="4.05"/><circle cx="303.46" cy="486.33" r="4.05"/><circle cx="305.2" cy="485.52" r="4.05"/><circle cx="306.93" cy="485.44" r="4.05"/><circle cx="308.67" cy="484.78" r="4.05"/><circle cx="310.4" cy="482.99" r="4.05"/><circle cx="312.14" cy="482.37" r="4.05"/><circle cx="313.87" cy="480.96" r="4.05"/><circle cx="315.6" cy="479.78" r="4.05"/><circle cx="317.34" cy="479.46" r="4.05"/><circle cx="319.07" cy="477.71" r="4.05"/></g>
<text x="139.05" y="434.2" text-anchor="end" font-size="18.3" textLength="43.6" lengthAdjust="spacingAndGlyphs">1000</text>
<text x="139.05" y="464.2" text-anchor="end" font-size="18.3" textLength="32.7" lengthAdjust="spacingAndGlyphs">500</text>
<text x="139.05" y="494.2" text-anchor="end" font-size="18.3" textLength="10.9" lengthAdjust="spacingAndGlyphs">0</text>
<text transform="translate(159.45 510) rotate(-45)" text-anchor="end" font-size="18.3" textLength="47.9" lengthAdjust="spacingAndGlyphs">12/15</text>
<text transform="translate(201.08 510) rotate(-45)" text-anchor="end" font-size="18.3" textLength="47.9" lengthAdjust="spacingAndGlyphs">12/16</text>
<text transform="translate(242.71 510) rotate(-45)" text-anchor="end" font-size="18.3" textLength="47.9" lengthAdjust="spacingAndGlyphs">12/17</text>
<text transform="translate(284.34 510) rotate(-45)" text-anchor="end" font-size="18.3" textLength="47.9" lengthAdjust="spacingAndGlyphs">12/18</text>
<text transform="translate(325.97 510) rotate(-45)" text-anchor="end" font-size="18.3" textLength="47.9" lengthAdjust="spacingAndGlyphs">12/19</text>
<text transform="translate(367.6 510) rotate(-45)" text-anchor="end" font-size="18.3" textLength="47.9" lengthAdjust="spacingAndGlyphs">12/20</text>
<text x="250.73" y="575.7" text-anchor="middle" font-size="20.2" textLength="50.5" lengthAdjust="spacingAndGlyphs">Time</text>
<rect x="490.1" y="427.4" width="208.5" height="60" fill="#fff"/>
<path d="M491.45 482.91H697.6M491.45 478.42H697.6M491.45 473.93H697.6M491.45 469.44H697.6M491.45 460.46H697.6M491.45 455.97H697.6M491.45 451.48H697.6M491.45 446.99H697.6M491.45 438.01H697.6M491.45 433.52H697.6M491.45 429.03H697.6" stroke="#000" stroke-opacity="0.27" stroke-width="2" stroke-dasharray="1.1 4.46" fill="none"/>
<path d="M532.15 427.4V487.4M573.85 427.4V487.4M615.55 427.4V487.4M657.25 427.4V487.4M490.1 442.5H698.6M490.1 464.95H698.6" stroke="#000" stroke-opacity="0.13" stroke-width="1.6" fill="none"/>
<rect x="490.1" y="427.4" width="208.5" height="60" fill="none" stroke="#262626" stroke-width="2"/>
<path d="M532.15 487.4v-3.4M532.15 427.4v3.4M573.85 487.4v-3.4M573.85 427.4v3.4M615.55 487.4v-3.4M615.55 427.4v3.4M657.25 487.4v-3.4M657.25 427.4v3.4M490.1 442.5h3.4M698.6 442.5h-3.4M490.1 464.95h3.4M698.6 464.95h-3.4M490.1 487.4h3.4M698.6 487.4h-3.4" stroke="#262626" stroke-width="1.9" fill="none"/>
<g fill="none" stroke="#0072BD" stroke-width="2"><circle cx="495.3" cy="487.1" r="4.05"/><circle cx="497.04" cy="487.1" r="4.05"/><circle cx="498.77" cy="487.1" r="4.05"/><circle cx="500.51" cy="487.1" r="4.05"/><circle cx="502.24" cy="479.2" r="4.05"/><circle cx="503.98" cy="476" r="4.05"/><circle cx="505.71" cy="473" r="4.05"/><circle cx="507.45" cy="459.2" r="4.05"/><circle cx="509.18" cy="445.1" r="4.05"/><circle cx="510.92" cy="432.9" r="4.05"/><circle cx="512.65" cy="430.3" r="4.05"/><circle cx="514.38" cy="426.4" r="4.05"/><circle cx="516.12" cy="428" r="4.05"/><circle cx="517.85" cy="438.7" r="4.05"/><circle cx="519.59" cy="448.6" r="4.05"/><circle cx="521.32" cy="460.9" r="4.05"/><circle cx="523.06" cy="469.5" r="4.05"/><circle cx="524.79" cy="478.5" r="4.05"/><circle cx="526.53" cy="487.1" r="4.05"/><circle cx="528.26" cy="487.1" r="4.05"/><circle cx="530" cy="487.1" r="4.05"/><circle cx="531.73" cy="487.1" r="4.05"/><circle cx="533.46" cy="487.1" r="4.05"/><circle cx="535.2" cy="487.1" r="4.05"/><circle cx="536.93" cy="487.1" r="4.05"/><circle cx="538.67" cy="487.1" r="4.05"/><circle cx="540.4" cy="487.1" r="4.05"/><circle cx="542.14" cy="487.1" r="4.05"/><circle cx="543.87" cy="480.5" r="4.05"/><circle cx="545.61" cy="477.9" r="4.05"/><circle cx="547.34" cy="474.7" r="4.05"/><circle cx="549.08" cy="464.4" r="4.05"/><circle cx="550.81" cy="454.1" r="4.05"/><circle cx="552.55" cy="443.8" r="4.05"/><circle cx="554.28" cy="445.7" r="4.05"/><circle cx="556.01" cy="448.3" r="4.05"/><circle cx="557.75" cy="451.5" r="4.05"/><circle cx="559.48" cy="457.3" r="4.05"/><circle cx="561.22" cy="463.7" r="4.05"/><circle cx="562.95" cy="470.8" r="4.05"/><circle cx="564.69" cy="477.9" r="4.05"/><circle cx="566.42" cy="482.4" r="4.05"/><circle cx="568.16" cy="487.1" r="4.05"/><circle cx="569.89" cy="487.1" r="4.05"/><circle cx="571.63" cy="487.1" r="4.05"/><circle cx="573.36" cy="487.1" r="4.05"/><circle cx="575.09" cy="487.1" r="4.05"/><circle cx="576.83" cy="487.1" r="4.05"/><circle cx="578.56" cy="487.1" r="4.05"/><circle cx="580.3" cy="487.1" r="4.05"/><circle cx="582.03" cy="487.1" r="4.05"/><circle cx="583.77" cy="487.1" r="4.05"/><circle cx="585.5" cy="483" r="4.05"/><circle cx="587.24" cy="479.8" r="4.05"/><circle cx="588.97" cy="476" r="4.05"/><circle cx="590.71" cy="472.7" r="4.05"/><circle cx="592.44" cy="470.6" r="4.05"/><circle cx="594.18" cy="470.2" r="4.05"/><circle cx="595.91" cy="473.4" r="4.05"/><circle cx="597.64" cy="476" r="4.05"/><circle cx="599.38" cy="477.6" r="4.05"/><circle cx="601.11" cy="478.9" r="4.05"/><circle cx="602.85" cy="480.2" r="4.05"/><circle cx="604.58" cy="481.8" r="4.05"/><circle cx="606.32" cy="483.7" r="4.05"/><circle cx="608.05" cy="485.6" r="4.05"/><circle cx="609.79" cy="487.1" r="4.05"/><circle cx="611.52" cy="487.1" r="4.05"/><circle cx="613.26" cy="487.1" r="4.05"/><circle cx="614.99" cy="487.1" r="4.05"/><circle cx="616.72" cy="487.1" r="4.05"/><circle cx="618.46" cy="487.1" r="4.05"/><circle cx="620.19" cy="487.1" r="4.05"/><circle cx="621.93" cy="487.1" r="4.05"/><circle cx="623.66" cy="487.1" r="4.05"/><circle cx="625.4" cy="487.1" r="4.05"/><circle cx="627.13" cy="483.7" r="4.05"/><circle cx="628.87" cy="481.5" r="4.05"/><circle cx="630.6" cy="478.5" r="4.05"/><circle cx="632.34" cy="475.6" r="4.05"/><circle cx="634.07" cy="473" r="4.05"/><circle cx="635.81" cy="472.1" r="4.05"/><circle cx="637.54" cy="474" r="4.05"/><circle cx="639.27" cy="476.9" r="4.05"/><circle cx="641.01" cy="479.8" r="4.05"/><circle cx="642.74" cy="481.8" r="4.05"/><circle cx="644.48" cy="483.3" r="4.05"/><circle cx="646.21" cy="484.3" r="4.05"/><circle cx="647.95" cy="485.2" r="4.05"/><circle cx="649.68" cy="486" r="4.05"/><circle cx="651.42" cy="486.6" r="4.05"/><circle cx="653.15" cy="487.1" r="4.05"/><circle cx="654.89" cy="487.1" r="4.05"/><circle cx="656.62" cy="487.1" r="4.05"/><circle cx="658.35" cy="487.1" r="4.05"/><circle cx="660.09" cy="487.1" r="4.05"/><circle cx="661.82" cy="487.1" r="4.05"/></g>
<text x="481.8" y="449.3" text-anchor="end" font-size="18.3" textLength="32.7" lengthAdjust="spacingAndGlyphs">100</text>
<text x="481.8" y="471.75" text-anchor="end" font-size="18.3" textLength="21.8" lengthAdjust="spacingAndGlyphs">50</text>
<text x="481.8" y="494.2" text-anchor="end" font-size="18.3" textLength="10.9" lengthAdjust="spacingAndGlyphs">0</text>
<text transform="translate(502.55 510) rotate(-45)" text-anchor="end" font-size="18.3" textLength="47.9" lengthAdjust="spacingAndGlyphs">12/15</text>
<text transform="translate(544.25 510) rotate(-45)" text-anchor="end" font-size="18.3" textLength="47.9" lengthAdjust="spacingAndGlyphs">12/16</text>
<text transform="translate(585.95 510) rotate(-45)" text-anchor="end" font-size="18.3" textLength="47.9" lengthAdjust="spacingAndGlyphs">12/17</text>
<text transform="translate(627.65 510) rotate(-45)" text-anchor="end" font-size="18.3" textLength="47.9" lengthAdjust="spacingAndGlyphs">12/18</text>
<text transform="translate(669.35 510) rotate(-45)" text-anchor="end" font-size="18.3" textLength="47.9" lengthAdjust="spacingAndGlyphs">12/19</text>
<text transform="translate(711.05 510) rotate(-45)" text-anchor="end" font-size="18.3" textLength="47.9" lengthAdjust="spacingAndGlyphs">12/20</text>
<text x="593.65" y="575.7" text-anchor="middle" font-size="20.2" textLength="50.5" lengthAdjust="spacingAndGlyphs">Time</text>
<text x="251.8" y="31.7" text-anchor="middle" font-weight="bold" fill="#000" stroke="#000" stroke-width="0.45" font-size="20.2" textLength="130" lengthAdjust="spacingAndGlyphs">Figure 2 low</text>
<text transform="translate(84.4 74) rotate(-90)" text-anchor="middle" font-size="20.2" textLength="101" lengthAdjust="spacingAndGlyphs">PRESSURE</text>
<text transform="translate(84.4 330.2) rotate(-90)" text-anchor="middle" font-size="20.2" textLength="106" lengthAdjust="spacingAndGlyphs">MIXDEPTH</text>
<text transform="translate(438.2 74.2) rotate(-90)" text-anchor="middle" font-size="20.2" textLength="67" lengthAdjust="spacingAndGlyphs">THETA</text>
<text transform="translate(455.3 201.6) rotate(-90)" text-anchor="middle" font-size="20.2" textLength="96.5" lengthAdjust="spacingAndGlyphs">RAINFALL</text>
<text transform="translate(460.4 329.2) rotate(-90)" text-anchor="middle" font-size="20.2" textLength="110" lengthAdjust="spacingAndGlyphs">H2OMIXRA</text>
<text transform="translate(86 244.8) rotate(-90)" font-size="20.2" textLength="32.8" lengthAdjust="spacingAndGlyphs">AIR</text>
<text transform="translate(95.4 211.3) rotate(-90)" font-size="16.0" textLength="10.1" lengthAdjust="spacingAndGlyphs">T</text>
<text transform="translate(86 200.5) rotate(-90)" font-size="20.2" textLength="42.7" lengthAdjust="spacingAndGlyphs">EMP</text>
<text transform="translate(75.2 502.2) rotate(-90)" font-size="20.2" textLength="49.6" lengthAdjust="spacingAndGlyphs">TERR</text>
<text transform="translate(85.9 451) rotate(-90)" font-size="16.0" textLength="14.5" lengthAdjust="spacingAndGlyphs">M</text>
<text transform="translate(75.2 435) rotate(-90)" font-size="20.2" textLength="22.8" lengthAdjust="spacingAndGlyphs">SL</text>
<text transform="translate(399.5 503.8) rotate(-90)" font-size="20.2" textLength="39.3" lengthAdjust="spacingAndGlyphs">SUN</text>
<text transform="translate(407.8 457.2) rotate(-90)" font-size="16.0" textLength="8.2" lengthAdjust="spacingAndGlyphs">F</text>
<text transform="translate(399.5 447.2) rotate(-90)" font-size="20.2" textLength="36.2" lengthAdjust="spacingAndGlyphs">LUX</text>
</svg>
</body></html>
